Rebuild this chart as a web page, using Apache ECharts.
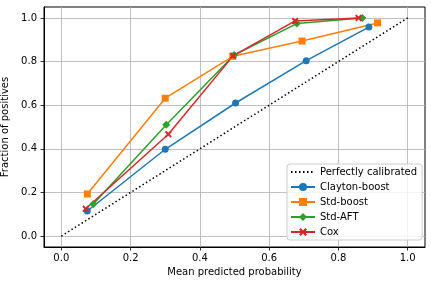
<!DOCTYPE html>
<html><head><meta charset="utf-8">
<script src="https://cdn.jsdelivr.net/npm/echarts@6/dist/echarts.min.js"></script>
<style>html,body{margin:0;padding:0;background:#fff}#c{width:431px;height:285px}</style>
</head><body><div id="c"></div>
<script>
const tickValues = [0.0, 0.2, 0.4, 0.6, 0.8, 1.0];
const perfect = [[0, 0], [1, 1]];
const claytonBoost = [[0.075, 0.115], [0.300, 0.398], [0.503, 0.610], [0.707, 0.804], [0.888, 0.958]];
const stdBoost = [[0.075, 0.193], [0.300, 0.632], [0.495, 0.824], [0.695, 0.894], [0.913, 0.977]];
const stdAFT = [[0.0925, 0.147], [0.303, 0.510], [0.499, 0.830], [0.680, 0.974], [0.869, 1.000]];
const cox = [[0.0705, 0.125], [0.309, 0.467], [0.496, 0.826], [0.675, 0.986], [0.858, 1.000]];

const FONT = 'DejaVu Sans';
const xSym = 'path://M0,2 L2,0 L5,3 L8,0 L10,2 L7,5 L10,8 L8,10 L5,7 L2,10 L0,8 L3,5 Z';

function axis(name, isY) {
  return {
    type: 'value', min: -0.05, max: 1.05,
    name: name, nameLocation: 'middle', nameGap: isY ? 25 : 20,
    nameTextStyle: {fontFamily: FONT, fontSize: 10, color: '#000'},
    axisLine: {show: true, onZero: false, lineStyle: {color: '#000', width: 1}},
    axisTick: {show: true, length: 3.5, inside: false, customValues: tickValues, lineStyle: {color: '#000', width: 0.8}},
    axisLabel: {customValues: tickValues, margin: isY ? 7 : 6, fontFamily: FONT, fontSize: 10, color: '#000',
      formatter: v => v.toFixed(1)},
    splitLine: {show: true, lineStyle: {color: '#b0b0b0', width: 0.8}}
  };
}

function lineSeries(name, data, color, symbol, size) {
  return {
    name: name, type: 'line', data: data, color: color,
    symbol: symbol, symbolSize: size,
    lineStyle: {width: 1.5, color: color},
    itemStyle: {color: color},
    animation: false, z: 3
  };
}

const chart = echarts.init(document.getElementById('c'), null, {renderer: 'canvas'});
chart.setOption({
  animation: false,
  backgroundColor: '#fff',
  grid: {left: 44, right: 6, top: 7, bottom: 38, containLabel: false, outerBoundsMode: 'none',
    show: true, borderColor: '#000', borderWidth: 1, backgroundColor: 'transparent'},
  xAxis: axis('Mean predicted probability', false),
  yAxis: axis('Fraction of positives', true),
  legend: {
    orient: 'vertical', left: 287, top: 164,
    padding: [3, 5, 3, 3], itemWidth: 24, itemHeight: 10, itemGap: 5,
    backgroundColor: 'rgba(255,255,255,0.8)', borderColor: '#cccccc', borderWidth: 1, borderRadius: 3,
    textStyle: {fontFamily: FONT, fontSize: 10, color: '#000'},
    data: [{name: 'Perfectly calibrated', itemStyle: {opacity: 0}}, 'Clayton-boost', 'Std-boost', 'Std-AFT', 'Cox']
  },
  series: [
    {name: 'Perfectly calibrated', type: 'line', data: perfect, symbol: 'none', color: '#000',
     lineStyle: {color: '#000', width: 1.5, type: [1.5, 2.5]}, z: 2},
    lineSeries('Clayton-boost', claytonBoost, '#1f77b4', 'circle', 7),
    lineSeries('Std-boost', stdBoost, '#ff7f0e', 'rect', 7),
    lineSeries('Std-AFT', stdAFT, '#2ca02c', 'diamond', 8),
    lineSeries('Cox', cox, '#d62728', xSym, 7)
  ]
});
</script></body></html>
